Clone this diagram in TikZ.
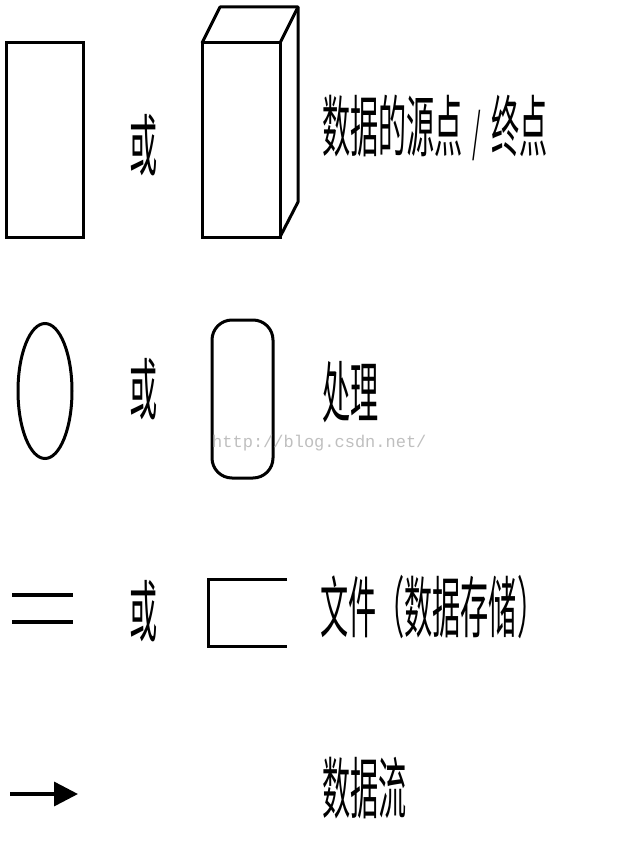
\documentclass[tikz,border=0pt]{standalone}
\usepackage{fontspec}
\newfontfamily\cjk{Noto Sans CJK SC}
\newfontfamily\marktt{Liberation Mono}
\usetikzlibrary{arrows.meta, shapes.geometric}
\tikzset{every picture/.style={x=1pt, y=-1pt}}

\begin{document}
\begin{tikzpicture}[
    sym/.style={draw, line width=3pt, inner sep=0pt, outer sep=0pt},
    word/.style={font=\cjk\fontsize{67}{67}\selectfont, xscale=0.42, inner sep=0pt},
  ]
    % Page size
    \useasboundingbox (0,0) rectangle (619,864);

    % Source / sink
    \node[sym, minimum width=77, minimum height=194] (src) at (44.5,140) {};
    \node[word] (or1) at (144,145) {或};
    \node[sym, minimum width=78, minimum height=194] (box) at (241,140) {};
    \draw[line width=3pt, line join=round] (box.north west) -- ++(18,-36) -- ++(78,0) -- ++(0,195) -- (box.south east);
    \draw[line width=3pt] (box.north east) -- ++(18,-36);
    \node[word, anchor=west] (srcText) at (322,128) {数据的源点\hspace{0.35em}{\fontsize{52}{52}\selectfont/}\hspace{0.35em}终点};

    % Process
    \node[sym, ellipse, minimum width=54, minimum height=135] (proc) at (45,391) {};
    \node[word] (or2) at (144,389) {或};
    \node[sym, rounded corners=20, minimum width=61, minimum height=158] (procBox) at (242.5,399) {};
    \node[word, anchor=west] (procText) at (322,392) {处理};
    \node[font=\marktt\fontsize{17}{17}\selectfont, text=gray!50, anchor=west, inner sep=0pt] (mark) at (212,443) {http://blog.csdn.net/};

    % File (data store)
    \draw[line width=3.5pt] (12,595) -- (73,595);
    \draw[line width=3.5pt] (12,622) -- (73,622);
    \node[word] (or3) at (144,611) {或};
    \draw[line width=3pt] (287,579) -- (208,579) -- (208,646) -- (287,646);
    \node[word, anchor=west] (fileText) at (320,607) {文件（数据存储）};

    % Data flow
    \coordinate (flowA) at (10,794);
    \coordinate (flowB) at (78,794);
    \draw[line width=3.5pt, -{Triangle[length=24pt, width=24pt]}] (flowA) -- (flowB);
    \node[word, anchor=west] (flowText) at (322,788) {数据流};
\end{tikzpicture}
\end{document}
